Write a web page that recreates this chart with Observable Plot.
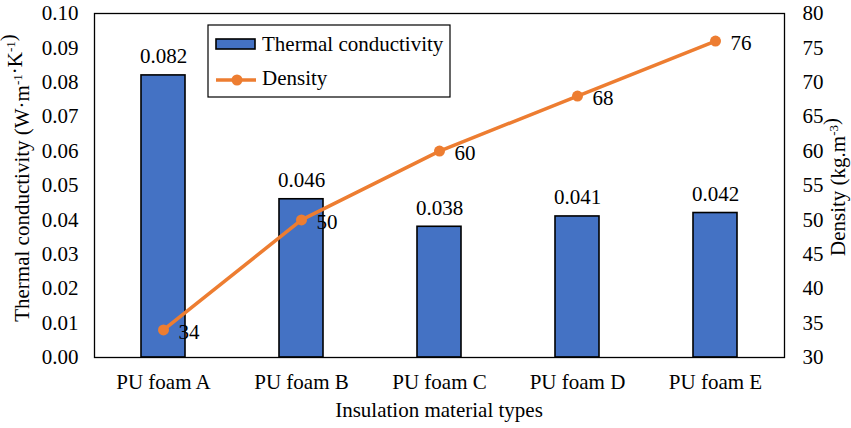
<!DOCTYPE html>
<html>
<head>
<meta charset="utf-8">
<script src="https://cdn.jsdelivr.net/npm/d3@7"></script>
<script src="https://cdn.jsdelivr.net/npm/@observablehq/plot@0.6"></script>
<style>
  html, body { margin: 0; padding: 0; background: #fff; }
  #chart { width: 851px; height: 428px; }
</style>
</head>
<body>
<div id="chart"></div>
<script>
// Insulation materials and their measured properties
const categories = ["PU foam A", "PU foam B", "PU foam C", "PU foam D", "PU foam E"];
const conductivity = [0.082, 0.046, 0.038, 0.041, 0.042]; // W·m-1·K-1
const density = [34, 50, 60, 68, 76];                      // kg.m-3

// Axis ticks
const conductivityTicks = [0, 0.01, 0.02, 0.03, 0.04, 0.05, 0.06, 0.07, 0.08, 0.09, 0.10];
const densityTicks = [30, 35, 40, 45, 50, 55, 60, 65, 70, 75, 80];

// Secondary axis: density [30, 80] shares the conductivity scale [0, 0.1]
const densityDomain = [30, 80];
const conductivityDomain = [0, 0.1];
const toY = d => (d - densityDomain[0]) / (densityDomain[1] - densityDomain[0]) * conductivityDomain[1];
const fromY = v => Math.round(densityDomain[0] + v / conductivityDomain[1] * (densityDomain[1] - densityDomain[0]));

const rows = categories.map((c, i) => ({category: c, conductivity: conductivity[i], density: density[i]}));

const BLUE = "#4472C4";
const ORANGE = "#ED7D31";
const FONT = "'Liberation Serif', 'Times New Roman', serif";
const fontSize = 21;

const chart = Plot.plot({
  width: 851,
  height: 428,
  marginLeft: 94,
  marginRight: 67,
  marginTop: 13,
  marginBottom: 71,
  style: {fontFamily: FONT, fontSize: fontSize + "px", color: "black", background: "white", overflow: "visible"},
  x: {domain: categories, paddingInner: 0.68, paddingOuter: 0.34, label: null},
  y: {domain: conductivityDomain, label: null},
  marks: [
    Plot.barY(rows, {x: "category", y: "conductivity", fill: BLUE, stroke: "black", strokeWidth: 1.6}),
    Plot.text(rows, {x: "category", y: "conductivity", text: d => d.conductivity.toFixed(3),
      lineAnchor: "bottom", dy: -12, fill: "black"}),
    Plot.line(rows, {x: "category", y: d => toY(d.density), stroke: ORANGE, strokeWidth: 3.5}),
    Plot.dot(rows, {x: "category", y: d => toY(d.density), r: 5.5, fill: ORANGE, stroke: null}),
    Plot.text(rows, {x: "category", y: d => toY(d.density), text: d => String(d.density),
      textAnchor: "start", lineAnchor: "middle", dx: 15, dy: 2, fill: "black"}),
    Plot.frame({stroke: "black", strokeWidth: 1.3}),
    Plot.axisX({tickSize: 0, tickPadding: 17, label: null}),
    Plot.axisY({ticks: conductivityTicks, tickFormat: d3.format(".2f"), tickSize: 0, tickPadding: 16, label: null}),
    Plot.axisY({anchor: "right", ticks: densityTicks.map(toY), tickFormat: fromY, tickSize: 0, tickPadding: 18, label: null})
  ]
});

document.getElementById("chart").appendChild(chart);

// Axis titles and legend drawn into the same SVG
const svg = d3.select(chart);

function label(parent, anchor) {
  return parent.append("text")
    .attr("font-family", FONT)
    .attr("font-size", fontSize)
    .attr("fill", "black")
    .attr("text-anchor", anchor);
}

function titleWithSup(g, parts) {
  const t = label(g, "middle");
  parts.forEach(p => {
    if (p.sup) {
      t.append("tspan").attr("font-size", 13).attr("dy", -7).text(p.sup);
      t.append("tspan").attr("dy", 7).text("");
    } else {
      t.append("tspan").text(p.text);
    }
  });
  return t;
}

// Left axis title
titleWithSup(svg.append("g").attr("transform", "translate(29,178) rotate(-90)"), [
  {text: "Thermal conductivity (W·m"}, {sup: "-1"}, {text: "·K"}, {sup: "-1"}, {text: ")"}
]);

// Right axis title
titleWithSup(svg.append("g").attr("transform", "translate(845,187) rotate(-90)"), [
  {text: "Density (kg.m"}, {sup: "-3"}, {text: ")"}
]);

// Bottom axis title
label(svg, "middle")
  .attr("x", 439).attr("y", 417)
  .text("Insulation material types");

// Legend
const lg = svg.append("g").attr("transform", "translate(208,25)");
lg.append("rect").attr("width", 242).attr("height", 72)
  .attr("fill", "white").attr("stroke", "black").attr("stroke-width", 1.2);
lg.append("rect").attr("x", 8).attr("y", 14).attr("width", 39).attr("height", 10)
  .attr("fill", BLUE).attr("stroke", "black").attr("stroke-width", 1.6);
label(lg, "start").attr("x", 54).attr("y", 26).text("Thermal conductivity");
lg.append("line").attr("x1", 8).attr("x2", 48).attr("y1", 55).attr("y2", 55)
  .attr("stroke", ORANGE).attr("stroke-width", 3.5);
lg.append("circle").attr("cx", 29).attr("cy", 55).attr("r", 5.5).attr("fill", ORANGE);
label(lg, "start").attr("x", 54).attr("y", 60).text("Density");
</script>
</body>
</html>
